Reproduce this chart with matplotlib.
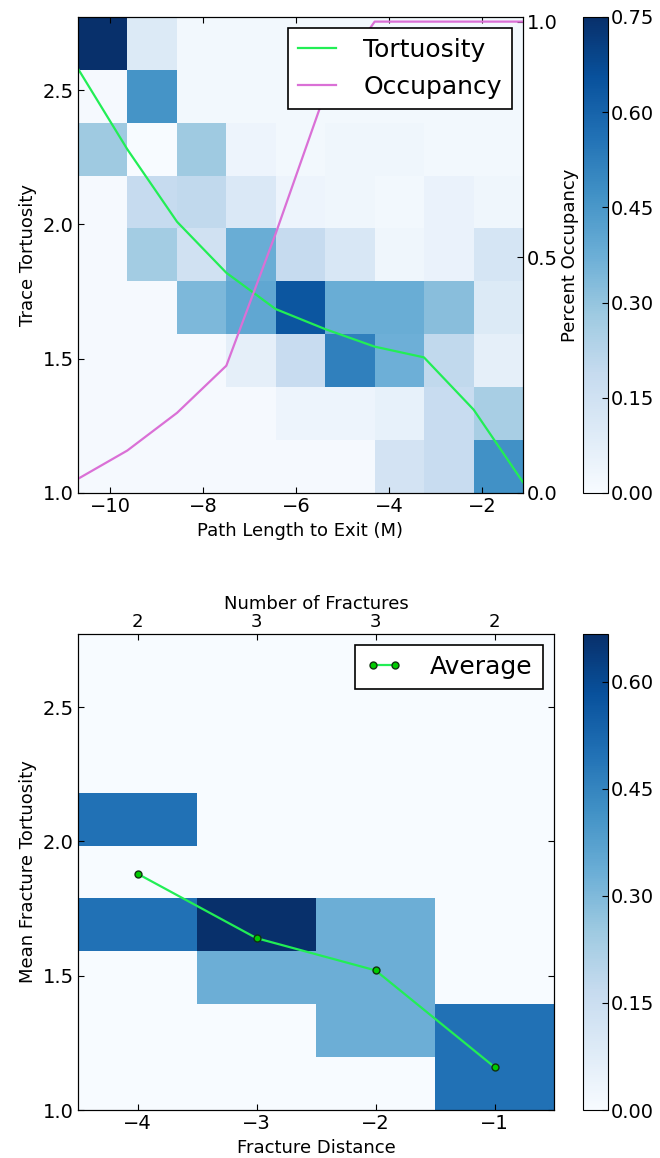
import numpy as np
import matplotlib
matplotlib.use("Agg")
import matplotlib.pyplot as plt

# Daten: oberes Bild (Pfadlaenge vs. Tortuositaet)
path_edges = [-10.69, -9.63, -8.56, -7.50, -6.44, -5.37, -4.31, -3.25, -2.18, -1.12]
tort_edges = [1.0, 1.197, 1.394, 1.591, 1.788, 1.985, 2.182, 2.379, 2.576, 2.773]

# Anteil pro Zelle, Zeilen von oben (hohe Tortuositaet) nach unten
occ_grid = [
    [0.75, 0.10, 0.02, 0.02, 0.02, 0.02, 0.02, 0.02, 0.02],
    [0.01, 0.46, 0.02, 0.02, 0.02, 0.02, 0.02, 0.02, 0.02],
    [0.28, 0.00, 0.28, 0.04, 0.02, 0.03, 0.03, 0.02, 0.02],
    [0.01, 0.19, 0.20, 0.11, 0.04, 0.03, 0.02, 0.05, 0.03],
    [0.01, 0.27, 0.15, 0.38, 0.19, 0.12, 0.03, 0.05, 0.13],
    [0.01, 0.01, 0.34, 0.40, 0.64, 0.38, 0.38, 0.32, 0.10],
    [0.01, 0.01, 0.01, 0.07, 0.18, 0.52, 0.37, 0.20, 0.07],
    [0.01, 0.01, 0.01, 0.01, 0.04, 0.04, 0.06, 0.18, 0.26],
    [0.01, 0.01, 0.01, 0.01, 0.01, 0.01, 0.14, 0.18, 0.47],
]
tortuosity = [2.58, 2.28, 2.01, 1.82, 1.685, 1.61, 1.545, 1.505, 1.31, 1.04]
occupancy = [0.03, 0.09, 0.17, 0.27, 0.55, 0.85, 1.0, 1.0, 1.0, 1.0]

# Daten: unteres Bild (Bruchabstand)
frac_edges = [-4.5, -3.5, -2.5, -1.5, -0.5]
frac_dist = [-4, -3, -2, -1]
n_fractures = [2, 3, 3, 2]
frac_grid = [
    [0.0, 0.0, 0.0, 0.0],
    [0.0, 0.0, 0.0, 0.0],
    [0.0, 0.0, 0.0, 0.0],
    [0.5, 0.0, 0.0, 0.0],
    [0.0, 0.0, 0.0, 0.0],
    [0.5, 0.667, 0.333, 0.0],
    [0.0, 0.333, 0.333, 0.0],
    [0.0, 0.0, 0.333, 0.5],
    [0.0, 0.0, 0.0, 0.5],
]
frac_mean = [1.88, 1.64, 1.52, 1.16]

plt.rcParams["font.family"] = "DejaVu Sans"
plt.rcParams["xtick.direction"] = "in"
plt.rcParams["ytick.direction"] = "in"

tick_fs = 14
label_fs = 13
legend_fs = 18

fig = plt.figure(figsize=(6.6, 11.58), dpi=100)

# ---------- oben ----------
ax1 = fig.add_axes([0.1182, 0.5743, 0.6742, 0.4111])
mesh1 = ax1.pcolormesh(path_edges, tort_edges, np.flipud(np.array(occ_grid)),
                       cmap="Blues", vmin=0, vmax=0.75)
l1, = ax1.plot(path_edges, tortuosity, color="#22ee55", lw=1.6, label="Tortuosity")
ax1.set_xlim(path_edges[0], path_edges[-1])
ax1.set_ylim(1.0, tort_edges[-1])
ax1.set_yticks([1.0, 1.5, 2.0, 2.5])
ax1.set_xticks([-10, -8, -6, -4, -2])
ax1.tick_params(labelsize=tick_fs, top=True, length=4, pad=3)
ax1.set_xlabel("Path Length to Exit (M)", fontsize=label_fs)
ax1.set_ylabel("Trace Tortuosity", fontsize=label_fs)

ax1b = ax1.twinx()
l2, = ax1b.plot(path_edges, occupancy, color="orchid", lw=1.6, label="Occupancy")
ax1b.set_ylim(0, 1.01)
ax1b.set_yticks([0.0, 0.5, 1.0])
ax1b.tick_params(labelsize=tick_fs, length=4, pad=3)
ax1b.set_ylabel("Percent Occupancy", fontsize=label_fs, labelpad=2)
ax1b.legend([l1, l2], ["Tortuosity", "Occupancy"], loc="upper right",
            fontsize=legend_fs, fancybox=False, edgecolor="black", framealpha=1,
            handlelength=1.5, handletextpad=1.1, borderaxespad=0.45)
ax1b.get_legend().get_frame().set_linewidth(1.2)

cax1 = fig.add_axes([0.8833, 0.5743, 0.0379, 0.4111])
cb1 = fig.colorbar(mesh1, cax=cax1, ticks=[0.0, 0.15, 0.30, 0.45, 0.60, 0.75], format="%.2f")
cb1.ax.tick_params(labelsize=tick_fs, length=4, pad=2)

# ---------- unten ----------
ax2 = fig.add_axes([0.1182, 0.04145, 0.7212, 0.4111])
mesh2 = ax2.pcolormesh(frac_edges, tort_edges, np.flipud(np.array(frac_grid)),
                       cmap="Blues", vmin=0, vmax=0.667)
ax2.plot(frac_dist, frac_mean, color="#22ee55", lw=1.6, marker="o", markersize=5,
         markerfacecolor="#00cc00", markeredgecolor="#113311", markeredgewidth=1.0,
         label="Average")
ax2.set_xlim(frac_edges[0], frac_edges[-1])
ax2.set_ylim(1.0, tort_edges[-1])
ax2.set_xticks(frac_dist)
ax2.set_yticks([1.0, 1.5, 2.0, 2.5])
ax2.tick_params(labelsize=tick_fs, right=True, length=4, pad=3)
ax2.set_xlabel("Fracture Distance", fontsize=label_fs)
ax2.set_ylabel("Mean Fracture Tortuosity", fontsize=label_fs)
leg2 = ax2.legend(loc="upper right", fontsize=legend_fs, fancybox=False, edgecolor="black",
                  framealpha=1, numpoints=2, handlelength=1.5, handletextpad=1.1,
                  borderaxespad=0.45)
leg2.get_frame().set_linewidth(1.2)

ax2t = ax2.twiny()
ax2t.set_xlim(ax2.get_xlim())
ax2t.set_xticks(frac_dist)
ax2t.set_xticklabels([str(n) for n in n_fractures])
ax2t.tick_params(labelsize=label_fs, length=4, pad=2)
ax2t.set_xlabel("Number of Fractures", fontsize=label_fs, labelpad=3)

cax2 = fig.add_axes([0.8833, 0.04145, 0.0379, 0.4111])
cb2 = fig.colorbar(mesh2, cax=cax2, ticks=[0.0, 0.15, 0.30, 0.45, 0.60], format="%.2f")
cb2.ax.tick_params(labelsize=tick_fs, length=4, pad=2)

fig.savefig("out.png", dpi=100)
